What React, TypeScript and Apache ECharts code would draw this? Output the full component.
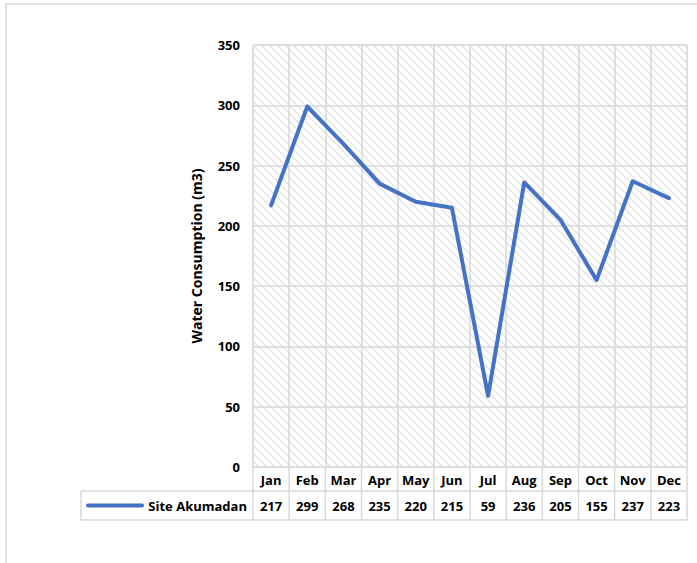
import React, { useEffect, useRef } from "react";
import * as echarts from "echarts";

const months = ["Jan", "Feb", "Mar", "Apr", "May", "Jun", "Jul", "Aug", "Sep", "Oct", "Nov", "Dec"];
const siteAkumadan = [217, 299, 268, 235, 220, 215, 59, 236, 205, 155, 237, 223];
const seriesName = "Site Akumadan";
const yAxisTitle = "Water Consumption (m3)";

const FONT = "'Open Sans', 'Noto Sans', sans-serif";
const GRID_L = 253;
const GRID_T = 45;
const GRID_W = 434;
const GRID_H = 422;
const GRAY = "#d9d9d9";

function makeHatch(): HTMLCanvasElement {
  const c = document.createElement("canvas");
  c.width = 8;
  c.height = 8;
  const ctx = c.getContext("2d")!;
  ctx.fillStyle = "#ffffff";
  ctx.fillRect(0, 0, 8, 8);
  ctx.strokeStyle = "#e2e2e2";
  ctx.lineWidth = 1.3;
  ctx.beginPath();
  ctx.moveTo(-2, -2);
  ctx.lineTo(10, 10);
  ctx.moveTo(-10, -2);
  ctx.lineTo(2, 10);
  ctx.moveTo(6, -2);
  ctx.lineTo(18, 10);
  ctx.stroke();
  return c;
}

export default function App() {
  const ref = useRef<HTMLDivElement>(null);
  useEffect(() => {
    if (!ref.current) return;
    const chart = echarts.init(ref.current, undefined, { renderer: "svg" });
    const cellW = GRID_W / months.length;
    const bottom = GRID_T + GRID_H;
    const row1 = bottom + 24;
    const row2 = row1 + 29;
    const tableLeft = 81;
    const right = GRID_L + GRID_W;
    const lineStyle = { stroke: GRAY, lineWidth: 1.5 };
    const graphics: any[] = [
      { type: "rect", shape: { x: 6, y: 4, width: 900, height: 800 }, style: { fill: "none", stroke: GRAY, lineWidth: 1.5 }, silent: true },
      { type: "line", shape: { x1: tableLeft, y1: row1, x2: right, y2: row1 }, style: lineStyle },
      { type: "line", shape: { x1: tableLeft, y1: row2, x2: right, y2: row2 }, style: lineStyle },
      { type: "line", shape: { x1: tableLeft, y1: row1, x2: tableLeft, y2: row2 }, style: lineStyle },
      { type: "line", shape: { x1: 88, y1: (row1 + row2) / 2, x2: 142, y2: (row1 + row2) / 2 }, style: { stroke: "#4472C4", lineWidth: 4, lineCap: "round" } },
      { type: "text", x: 247, y: (row1 + row2) / 2, style: { text: seriesName, font: `bold 13px ${FONT}`, fill: "#000", align: "right", verticalAlign: "middle" } },
    ];
    for (let i = 0; i <= months.length; i++) {
      const x = GRID_L + i * cellW;
      graphics.push({ type: "line", shape: { x1: x, y1: bottom, x2: x, y2: row2 }, style: lineStyle });
    }
    chart.setOption({
      animation: false,
      grid: {
        left: GRID_L,
        top: GRID_T,
        width: GRID_W,
        height: GRID_H,
        show: true,
        borderColor: GRAY,
        borderWidth: 1,
        backgroundColor: { image: makeHatch(), repeat: "repeat" },
      },
      xAxis: [
        {
          type: "category",
          data: months,
          position: "bottom",
          boundaryGap: true,
          axisLine: { show: false },
          axisTick: { show: false },
          splitLine: { show: true, interval: 0, lineStyle: { color: GRAY, width: 1.5 } },
          axisLabel: { interval: 0, margin: 13, verticalAlign: "middle", color: "#000", fontWeight: "bold", fontSize: 13, fontFamily: FONT },
        },
        {
          type: "category",
          data: siteAkumadan.map(String),
          position: "bottom",
          boundaryGap: true,
          axisLine: { show: false },
          axisTick: { show: false },
          splitLine: { show: false },
          axisLabel: { interval: 0, margin: 39, verticalAlign: "middle", color: "#000", fontWeight: "bold", fontSize: 13, fontFamily: FONT },
        },
      ],
      yAxis: {
        type: "value",
        min: 0,
        max: 350,
        interval: 50,
        name: yAxisTitle,
        nameLocation: "middle",
        nameGap: 50,
        nameRotate: 90,
        nameTextStyle: { color: "#000", fontWeight: "bold", fontSize: 14, fontFamily: FONT },
        axisLine: { show: false },
        axisTick: { show: false },
        splitLine: { show: true, lineStyle: { color: GRAY, width: 1.5 } },
        axisLabel: { margin: 13, color: "#000", fontWeight: "bold", fontSize: 13, fontFamily: FONT },
      },
      series: [
        {
          name: seriesName,
          type: "line",
          data: siteAkumadan,
          xAxisIndex: 0,
          showSymbol: false,
          symbol: "none",
          lineStyle: { color: "#4472C4", width: 4, cap: "round", join: "round" },
          itemStyle: { color: "#4472C4" },
        },
      ],
      graphic: graphics,
    });
    return () => chart.dispose();
  }, []);
  return <div ref={ref} style={{ position: "absolute", left: 0, top: 0, width: 697, height: 563, background: "#fff" }} />;
}
